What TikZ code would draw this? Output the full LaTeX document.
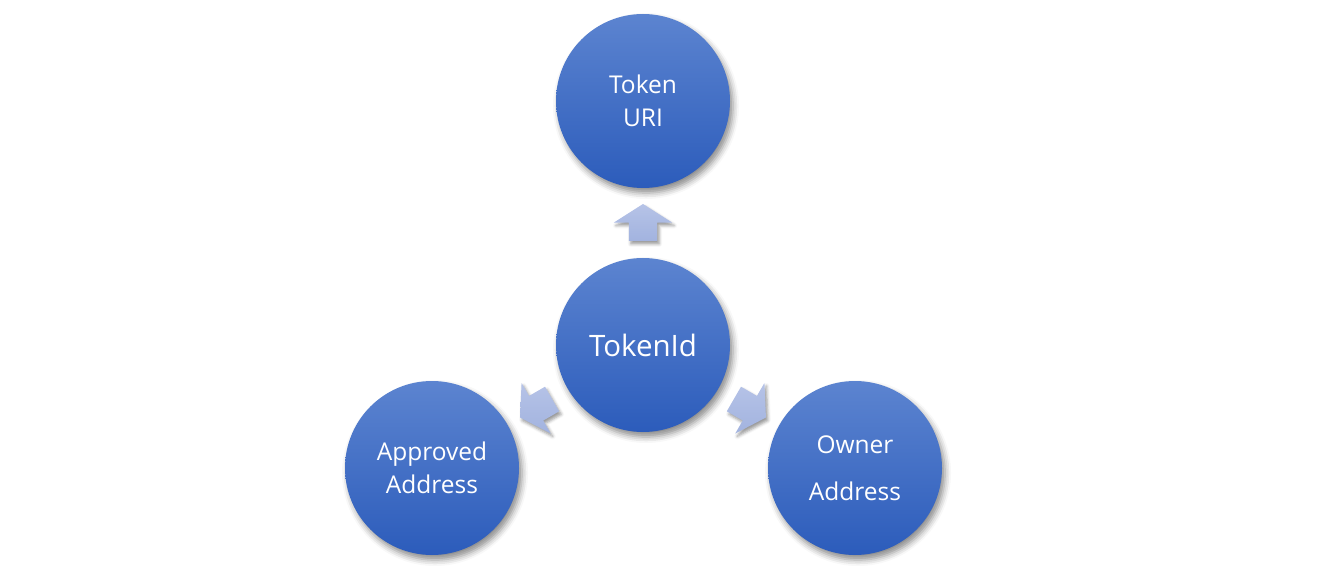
\documentclass[tikz,border=0pt]{standalone}
\usepackage{fontspec}
\setmainfont{Open Sans}
\usetikzlibrary{shapes.arrows,shadows.blur}
\definecolor{ctop}{HTML}{5C84D0}
\definecolor{cbot}{HTML}{2C5CBB}
\definecolor{atop}{HTML}{B6C3E7}
\definecolor{abot}{HTML}{A2B3DF}
\tikzset{
  circ/.style={circle, minimum size=174pt, inner sep=0pt, top color=ctop, bottom color=cbot, draw=none,
    text=white, font=\fontsize{24.5}{33}\selectfont, align=center,
    blur shadow={shadow xshift=3pt, shadow yshift=-5pt, shadow blur radius=6pt, shadow opacity=45}},
  arr/.style={single arrow, minimum height=37pt, single arrow head extend=15pt,
    single arrow tip angle=115, single arrow head indent=0pt, inner sep=0pt, draw=none, top color=atop, bottom color=abot,
    blur shadow={shadow xshift=2pt, shadow yshift=-3pt, shadow blur radius=3pt, shadow opacity=40}}
}
\begin{document}
\begin{tikzpicture}[x=1pt,y=1pt]
\useasboundingbox (0,0) rectangle (1335,571);
\node[circ] (uri) at (643,470) {Token\\URI};
\node[circ, font=\fontsize{29.5}{33}\selectfont] (tid) at (643,226) {TokenId};
\node[circ] (appr) at (432,103) {Approved\\Address};
\node[circ, font=\fontsize{24.5}{47}\selectfont] (own) at (855,103) {Owner\\Address};
\node[arr, rotate=90] (a1) at (643,344) {\rule{0pt}{28pt}};
\node[arr, rotate=210] (a2) at (540,165) {\rule{0pt}{28pt}};
\node[arr, rotate=330] (a3) at (746,165) {\rule{0pt}{28pt}};
\end{tikzpicture}
\end{document}
